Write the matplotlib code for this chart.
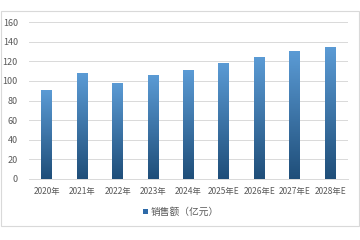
import matplotlib.pyplot as plt
import numpy as np
from matplotlib.patches import Rectangle, Patch
from matplotlib.colors import LinearSegmentedColormap

plt.rcParams['font.family'] = ['Noto Sans CJK SC', 'DejaVu Sans']

years = ['2020年', '2021年', '2022年', '2023年', '2024年', '2025年E', '2026年E', '2027年E', '2028年E']
sales = [90, 108, 97.5, 105, 111, 118, 124, 129.5, 134]

fig = plt.figure(figsize=(3.6, 2.4), dpi=100)
# outer frame
fig.patches.append(Rectangle((1 / 360, 1 - 226 / 240), 358 / 360, 215 / 240,
                             transform=fig.transFigure, fill=False,
                             edgecolor='#d9d9d9', linewidth=0.8))

ax = fig.add_axes([29 / 360, 1 - 179 / 240, 319 / 360, 157 / 240 * 170 / 160])

cmap = LinearSegmentedColormap.from_list('bar', ['#1f4e79', '#5b9bd5'])
grad = np.linspace(0, 1, 256).reshape(-1, 1)
width = 0.31
for i, v in enumerate(sales):
    ax.imshow(grad, cmap=cmap, origin='lower', aspect='auto',
              extent=(i - width / 2, i + width / 2, 0, v), zorder=2)
ax.set_xlim(-0.5, len(years) - 0.5)
ax.set_ylim(0, 170)

ax.set_yticks(range(0, 161, 20))
ax.set_xticks(range(len(years)))
ax.set_xticklabels(years)
ax.tick_params(axis='both', length=0, colors='#595959')
ax.tick_params(axis='y', pad=8, labelsize=6.5)
ax.tick_params(axis='x', pad=6, labelsize=6)
ax.grid(axis='y', color='#d9d9d9', linewidth=0.7, zorder=0)
ax.set_axisbelow(True)
for s in ['top', 'right', 'left']:
    ax.spines[s].set_visible(False)
ax.spines['bottom'].set_color('#d9d9d9')
ax.spines['bottom'].set_linewidth(0.7)

fig.legend(handles=[Patch(facecolor='#2e6aa8')], labels=['销售额（亿元）'],
           loc='center', bbox_to_anchor=(181 / 360, 1 - 212 / 240), frameon=False,
           fontsize=7, handlelength=0.5, handleheight=0.5, handletextpad=0.3,
           labelcolor='#595959')

fig.savefig('out.png', dpi=100)
